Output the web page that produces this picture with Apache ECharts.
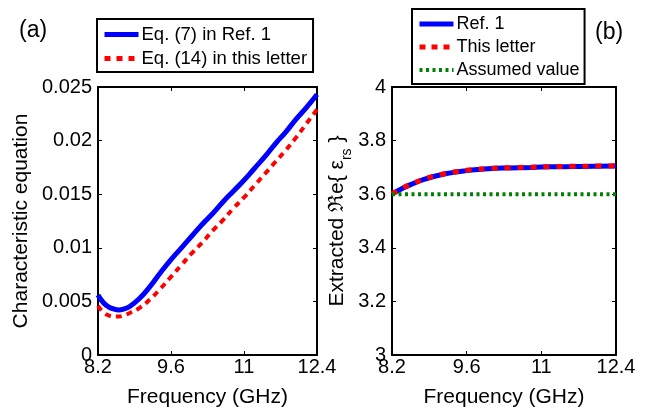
<!DOCTYPE html>
<html>
<head>
<meta charset="utf-8">
<script src="https://cdn.jsdelivr.net/npm/echarts@6/dist/echarts.min.js"></script>
<style>html,body{margin:0;padding:0;background:#fff;}#c{width:649px;height:413px;}</style>
</head>
<body>
<div id="c"></div>
<script>
// ---------- data ----------
const freqA = [8.2, 8.3, 8.4, 8.5, 8.6, 8.7, 8.8, 9.0, 9.2, 9.4, 9.6, 9.8, 10.0, 10.2, 10.4, 10.6, 10.8, 11.0, 11.2, 11.4, 11.6, 11.8, 12.0, 12.2, 12.4];
const ref1A = [0.0056, 0.0049, 0.0045, 0.0043, 0.0042, 0.0043, 0.0045, 0.0053, 0.0064, 0.0077, 0.0089, 0.0100, 0.0111, 0.0122, 0.0132, 0.0143, 0.0153, 0.0163, 0.0174, 0.0185, 0.0197, 0.0208, 0.0220, 0.0231, 0.0243];
const letterA = [0.0046, 0.0040, 0.0037, 0.0036, 0.0036, 0.0037, 0.0039, 0.0044, 0.0052, 0.0062, 0.0073, 0.0084, 0.0095, 0.0105, 0.0116, 0.0126, 0.0137, 0.0147, 0.0158, 0.0169, 0.0180, 0.0191, 0.0203, 0.0216, 0.0229];
const freqB = [8.2, 8.4, 8.6, 8.8, 9.0, 9.2, 9.4, 9.6, 9.8, 10.0, 10.4, 10.8, 11.2, 11.6, 12.0, 12.4];
const ref1B = [3.600, 3.622, 3.640, 3.655, 3.667, 3.676, 3.683, 3.688, 3.692, 3.695, 3.698, 3.700, 3.702, 3.703, 3.704, 3.705];
const letterB = [3.600, 3.623, 3.641, 3.656, 3.668, 3.677, 3.684, 3.689, 3.693, 3.696, 3.699, 3.701, 3.703, 3.704, 3.705, 3.706];
const assumedB = [3.6, 3.6, 3.6, 3.6, 3.6, 3.6, 3.6, 3.6, 3.6, 3.6, 3.6, 3.6, 3.6, 3.6, 3.6, 3.6];
const xTicks = [8.2, 9.6, 11, 12.4];
const yTicksA = [0, 0.005, 0.01, 0.015, 0.02, 0.025];
const yTicksB = [3, 3.2, 3.4, 3.6, 3.8, 4];
const namesA = ['Eq. (7) in Ref. 1', 'Eq. (14) in this letter'];
const namesB = ['Ref. 1', 'This letter', 'Assumed value'];

// ---------- chart ----------
const FONT = 'Liberation Sans, Arial, Helvetica, sans-serif';
const BLUE = '#0000ff', RED = '#ff0000', GREEN = '#008000';
const pairs = (xs, ys) => xs.map((x, i) => [x, ys[i]]);
const chart = echarts.init(document.getElementById('c'), null, {renderer: 'canvas'});

function xAxisCfg(gi, pos, show) {
  return {
    type: 'value', gridIndex: gi, position: pos, min: 8.2, max: 12.4,
    name: show ? 'Frequency (GHz)' : '', nameLocation: 'middle', nameGap: 32,
    nameTextStyle: {fontFamily: FONT, fontSize: 21, color: '#000'},
    axisLine: {show: true, onZero: false, lineStyle: {color: '#000', width: 2}},
    axisTick: {show: true, inside: true, length: 4, customValues: xTicks, lineStyle: {color: '#000', width: 1}},
    axisLabel: {show: show, customValues: xTicks, margin: 2, fontFamily: FONT, fontSize: 20, color: '#000',
      formatter: v => String(Math.round(v * 10) / 10)},
    splitLine: {show: false}
  };
}
function yAxisCfg(gi, pos, show, min, max, ticks, name, gap) {
  return {
    type: 'value', gridIndex: gi, position: pos, min: min, max: max,
    name: show ? name : '', nameLocation: 'middle', nameGap: gap,
    nameTextStyle: {fontFamily: FONT, fontSize: 21, color: '#000',
      rich: {
        n: {fontFamily: FONT, fontSize: 21, color: '#000'},
        s: {fontFamily: FONT, fontSize: 14, color: '#000', verticalAlign: 'bottom', padding: [0, 0, -7, 0]}
      }},
    axisLine: {show: true, onZero: false, lineStyle: {color: '#000', width: 2}},
    axisTick: {show: true, inside: true, length: 4, customValues: ticks, lineStyle: {color: '#000', width: 1}},
    axisLabel: {show: show, customValues: ticks, margin: 6, fontFamily: FONT, fontSize: 20, color: '#000',
      formatter: v => String(Math.round(v * 1000) / 1000)},
    splitLine: {show: false}
  };
}

const option = {
  animation: false,
  backgroundColor: '#fff',
  title: [
    {text: '(a)', left: 14, top: 14, textStyle: {fontFamily: FONT, fontSize: 23, fontWeight: 'normal', color: '#000'}},
    {text: '(b)', left: 590, top: 16, textStyle: {fontFamily: FONT, fontSize: 23, fontWeight: 'normal', color: '#000'}}
  ],
  grid: [
    {left: 98, top: 87, width: 219, height: 269},
    {left: 392, top: 87, width: 224, height: 271}
  ],
  legend: [
    {
      data: [
        {name: namesA[0], lineStyle: {color: BLUE, width: 5, type: 'solid'}},
        {name: namesA[1], lineStyle: {color: RED, width: 5, type: [6, 6]}}
      ],
      orient: 'vertical', left: 97, top: 19,
      padding: [6, 6, 4, 5], itemWidth: 34, itemHeight: 14, itemGap: 5,
      borderColor: '#000', borderWidth: 2, backgroundColor: '#fff',
      itemStyle: {opacity: 0},
      textStyle: {fontFamily: FONT, fontSize: 18.5, color: '#000', padding: [0, 0, 0, -2]}
    },
    {
      data: [
        {name: namesB[0], lineStyle: {color: BLUE, width: 5, type: 'solid'}},
        {name: namesB[1], lineStyle: {color: RED, width: 5, type: [6, 6]}},
        {name: namesB[2], lineStyle: {color: GREEN, width: 4, type: [3, 3.5]}}
      ],
      orient: 'vertical', left: 412, top: 9,
      padding: [6, 5, 5, 5], itemWidth: 34, itemHeight: 14, itemGap: 5,
      borderColor: '#000', borderWidth: 2, backgroundColor: '#fff',
      itemStyle: {opacity: 0},
      textStyle: {fontFamily: FONT, fontSize: 18, color: '#000', padding: [0, 0, 0, -2]}
    }
  ],
  xAxis: [
    xAxisCfg(0, 'bottom', true), xAxisCfg(0, 'top', false),
    xAxisCfg(1, 'bottom', true), xAxisCfg(1, 'top', false)
  ],
  yAxis: [
    yAxisCfg(0, 'left', true, 0, 0.025, yTicksA, 'Characteristic equation', 66),
    yAxisCfg(0, 'right', false, 0, 0.025, yTicksA, '', 0),
    yAxisCfg(1, 'left', true, 3, 4, yTicksB, '{n|Extracted ℜe{ ε}{s|rs}{n| }}', 44),
    yAxisCfg(1, 'right', false, 3, 4, yTicksB, '', 0)
  ],
  series: [
    {name: namesA[0], type: 'line', xAxisIndex: 0, yAxisIndex: 0, data: pairs(freqA, ref1A), smooth: true,
      showSymbol: false, symbol: 'none', color: BLUE, lineStyle: {color: BLUE, width: 5}},
    {name: namesA[1], type: 'line', xAxisIndex: 0, yAxisIndex: 0, data: pairs(freqA, letterA), smooth: true,
      showSymbol: false, symbol: 'none', color: RED, lineStyle: {color: RED, width: 4, type: [6, 5]}, z: 3},
    {name: namesB[0], type: 'line', xAxisIndex: 2, yAxisIndex: 2, data: pairs(freqB, ref1B), smooth: true,
      showSymbol: false, symbol: 'none', color: BLUE, lineStyle: {color: BLUE, width: 5}},
    {name: namesB[1], type: 'line', xAxisIndex: 2, yAxisIndex: 2, data: pairs(freqB, letterB), smooth: true,
      showSymbol: false, symbol: 'none', color: RED, lineStyle: {color: RED, width: 5, type: [6, 7]}, z: 3},
    {name: namesB[2], type: 'line', xAxisIndex: 2, yAxisIndex: 2, data: pairs(freqB, assumedB),
      showSymbol: false, symbol: 'none', color: GREEN, lineStyle: {color: GREEN, width: 4, type: [3, 3.5]}}
  ]
};
chart.setOption(option);
</script>
</body>
</html>
